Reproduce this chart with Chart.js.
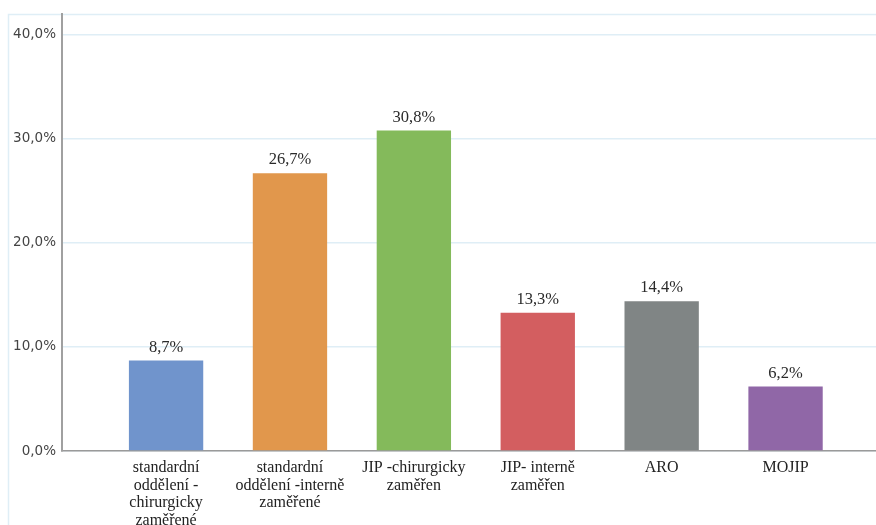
<!DOCTYPE html>
<html>
<head>
<meta charset="utf-8">
<script src="https://cdn.jsdelivr.net/npm/chart.js@4.4.1/dist/chart.umd.min.js"></script>
<style>
  html, body { margin: 0; padding: 0; background: #fff; }
  #wrap { position: relative; width: 876px; height: 525px; }
  canvas { display: block; }
</style>
</head>
<body>
<div id="wrap"><canvas id="c" width="876" height="525"></canvas></div>
<script>
// Categories (multi-line axis labels)
const categories = [
  ["standardní", "oddělení -", "chirurgicky", "zaměřené"],
  ["standardní", "oddělení -interně", "zaměřené"],
  ["JIP -chirurgicky", "zaměřen"],
  ["JIP- interně", "zaměřen"],
  ["ARO"],
  ["MOJIP"]
];
// Share of respondents per department, in percent
const values = [8.7, 26.7, 30.8, 13.3, 14.4, 6.2];
const barColors = ["#7094cc", "#e1974c", "#84ba5b", "#d35e60", "#808585", "#9067a7"];
// Value axis tick marks
const yTicks = [0, 10, 20, 30, 40];

const fmt = v => v.toFixed(1).replace('.', ',') + '%';

// Light frame around the plot panel
const framePlugin = {
  id: 'frame',
  beforeDraw(chart) {
    const ctx = chart.ctx;
    ctx.save();
    ctx.strokeStyle = '#dfeef6';
    ctx.lineWidth = 1.5;
    ctx.beginPath();
    ctx.moveTo(8.5, chart.height);
    ctx.lineTo(8.5, chart.chartArea.top + 0.5);
    ctx.lineTo(chart.width, chart.chartArea.top + 0.5);
    ctx.stroke();
    ctx.restore();
  }
};

// Value labels above the bars
const valueLabels = {
  id: 'valueLabels',
  afterDatasetsDraw(chart) {
    const ctx = chart.ctx;
    const meta = chart.getDatasetMeta(0);
    ctx.save();
    ctx.font = '16.5px "Liberation Serif", "Times New Roman", serif';
    ctx.fillStyle = '#2a2a2a';
    ctx.textAlign = 'center';
    ctx.textBaseline = 'bottom';
    meta.data.forEach((bar, i) => {
      ctx.fillText(fmt(values[i]), bar.x, bar.y - 5);
    });
    ctx.restore();
  }
};

new Chart(document.getElementById('c'), {
  type: 'bar',
  data: {
    datasets: [{
      data: values.map((v, i) => ({ x: i, y: v })),
      backgroundColor: barColors,
      borderWidth: 0,
      categoryPercentage: 1,
      barPercentage: 0.6
    }]
  },
  options: {
    responsive: false,
    animation: false,
    layout: { padding: { top: 13, right: 0, left: 0, bottom: 0 } },
    plugins: { legend: { display: false }, tooltip: { enabled: false } },
    scales: {
      x: {
        type: 'linear',
        offset: false,
        min: -0.84,
        max: 5.73,
        afterBuildTicks: s => { s.ticks = categories.map((_, i) => ({ value: i })); },
        afterFit: s => { s.height = 74; },
        grid: { display: true, offset: false, drawOnChartArea: false, drawTicks: false },
        border: { display: true, color: '#9a9a9a', width: 1.5 },
        ticks: {
          autoSkip: false,
          maxRotation: 0,
          padding: 8,
          color: '#222',
          font: { family: '"Liberation Serif", "Times New Roman", serif', size: 16, lineHeight: 1.1 },
          callback: v => categories[v]
        }
      },
      y: {
        min: 0,
        max: 42,
        afterBuildTicks: s => { s.ticks = yTicks.map(v => ({ value: v })); },
        afterFit: s => { s.width = 62; },
        grid: { color: '#dfeef6', lineWidth: 1.5, drawTicks: false },
        border: { display: true, color: '#a0a0a0', width: 2 },
        ticks: {
          padding: 6,
          color: '#444',
          font: { family: '"DejaVu Sans", sans-serif', size: 13.5 },
          callback: v => fmt(v)
        }
      }
    }
  },
  plugins: [framePlugin, valueLabels]
});
</script>
</body>
</html>
